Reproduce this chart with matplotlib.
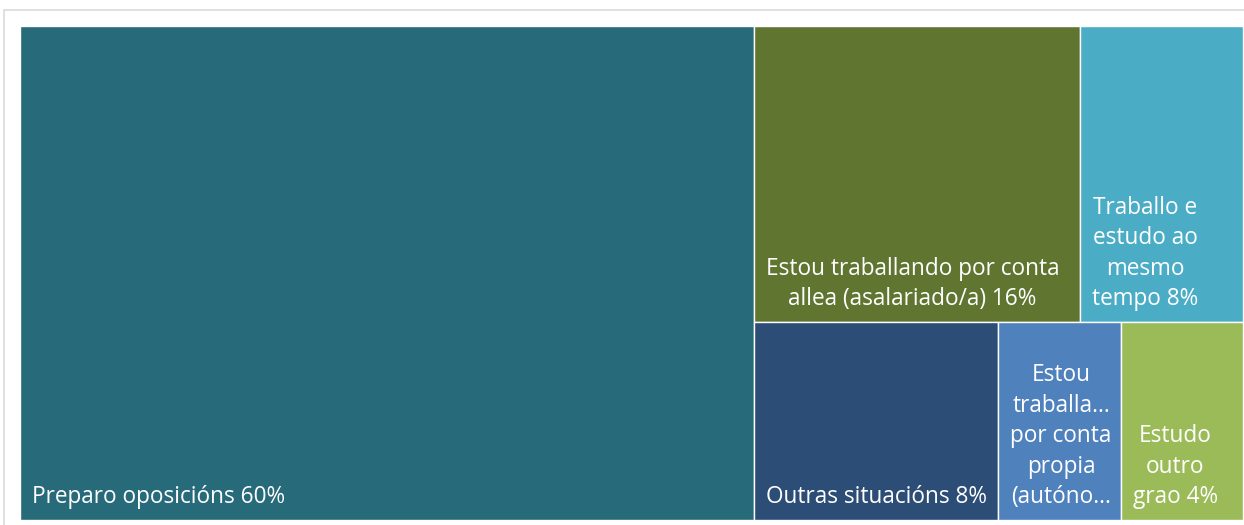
import matplotlib.pyplot as plt
from matplotlib.patches import Rectangle

# treemap data (share of respondents, %)
labels = ["Preparo oposicións",
          "Estou traballando por conta\nallea (asalariado/a)",
          "Traballo e\nestudo ao\nmesmo\ntempo",
          "Outras situacións",
          "Estou\ntraballa...\npor conta\npropia\n(autóno...",
          "Estudo\noutro\ngrao"]
values = [60, 16, 8, 8, 4, 4]
pct_text = ["60%", "16%", "8%", "8%", "", "4%"]
colors = ["#276A7A", "#607630", "#4BACC6", "#2C4D75", "#4F81BD", "#9BBB59"]


def worst(row, side):
    s = sum(row)
    return max(max(side * side * r / (s * s), s * s / (side * side * r)) for r in row)


def squarify(vals, x, y, w, h):
    # squarified treemap, vals are areas that fill w*h
    rects = []
    vals = list(vals)
    while vals:
        side = min(w, h)
        row = [vals.pop(0)]
        while vals and worst(row + [vals[0]], side) <= worst(row, side):
            row.append(vals.pop(0))
        s = sum(row)
        if w >= h:  # column on the left
            cw = s / h
            yy = y
            for r in row:
                rects.append((x, yy, cw, r / cw))
                yy += r / cw
            x += cw
            w -= cw
        else:  # row on top
            rh = s / w
            xx = x
            for r in row:
                rects.append((xx, y, r / rh, rh))
                xx += r / rh
            y += rh
            h -= rh
    return rects


W, H = 1223.0, 494.0
tot = sum(values)
areas = [v / tot * W * H for v in values]
rects = squarify(areas, 0, 0, W, H)

fig = plt.figure(figsize=(12.44, 5.25), dpi=100)
fig.patches.append(Rectangle((4 / 1244, -0.1), 1.2, (525 - 10) / 525 + 0.1, transform=fig.transFigure,
                             fill=False, edgecolor="#DADADA", linewidth=1.2))
ax = fig.add_axes([20 / 1244, 5 / 525, 1223 / 1244, 494 / 525])
ax.set_xlim(0, W)
ax.set_ylim(H, 0)
ax.axis("off")

for (x, y, w, h), lab, p, c in zip(rects, labels, pct_text, colors):
    ax.add_patch(Rectangle((x, y), w, h, facecolor=c, edgecolor="white", linewidth=1))
    txt = lab + (" " + p if p else "")
    ax.text(x + 12, y + h - 11, txt, color="white", fontsize=16.3, family="Open Sans",
            ha="left", va="bottom", multialignment="center", linespacing=1.36)

fig.savefig("out.png", dpi=100)
